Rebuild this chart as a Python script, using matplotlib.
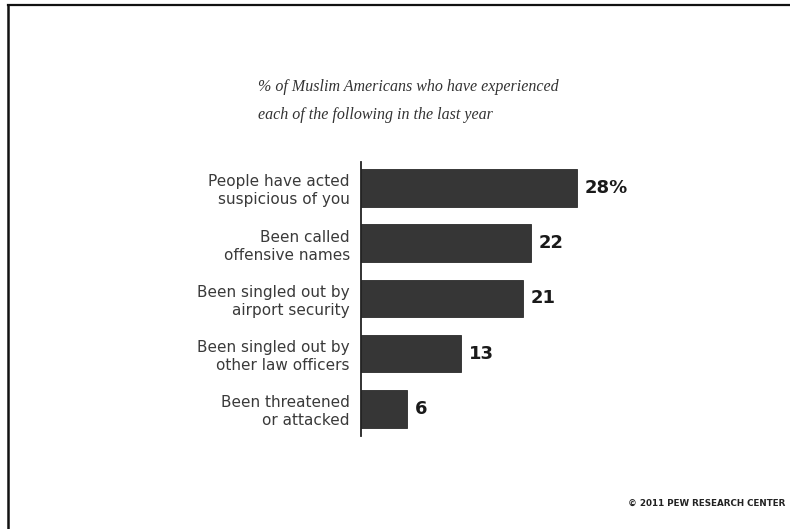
import matplotlib.pyplot as plt
from matplotlib.lines import Line2D

# data
labels = [
    "People have acted\nsuspicious of you",
    "Been called\noffensive names",
    "Been singled out by\nairport security",
    "Been singled out by\nother law officers",
    "Been threatened\nor attacked",
]
values = [28, 22, 21, 13, 6]
value_text = ["28%", "22", "21", "13", "6"]

W, H = 790, 529
fig = plt.figure(figsize=(W / 100, H / 100), dpi=100)
fig.patch.set_facecolor("white")

# axes placed so the bars land where they are in the original
ax = fig.add_axes([361 / W, 1 - 436 / H, 309 / W, 274 / H])
ypos = list(range(len(values)))
ax.barh(ypos, values, height=0.68, color="#363636", edgecolor="#2a2a2a", linewidth=0.6)

for y, v, t in zip(ypos, values, value_text):
    ax.text(v + 1.0, y, t, ha="left", va="center", fontsize=13,
            fontweight="bold", color="#1a1a1a")

ax.set_xlim(0, 40)
ax.set_ylim(4.49, -0.47)
ax.set_yticks(ypos)
ax.set_yticklabels(labels, fontsize=11, color="#3a3a3a", linespacing=1.25,
                   ha="right")
ax.tick_params(axis="y", length=0, pad=8)
ax.set_xticks([])
for side in ["top", "right", "bottom"]:
    ax.spines[side].set_visible(False)
ax.spines["left"].set_color("#222222")
ax.spines["left"].set_linewidth(1.3)

# title
fig.text(258 / W, 1 - 101 / H,
         "% of Muslim Americans who have experienced\neach of the following in the last year",
         ha="left", va="center", fontsize=11.5, style="italic",
         family="Liberation Serif", color="#333333", linespacing=1.95)

# source note
fig.text(785 / W, 1 - 503 / H, "© 2011 PEW RESEARCH CENTER", ha="right",
         va="center", fontsize=6.3, fontweight="bold", color="#222222")

# border on top and left as in the scan
fig.add_artist(Line2D([8 / W, 1.0], [1 - 5 / H, 1 - 5 / H], color="#111111",
                      lw=1.6, transform=fig.transFigure))
fig.add_artist(Line2D([8 / W, 8 / W], [0, 1 - 5 / H], color="#111111",
                      lw=1.8, transform=fig.transFigure))

plt.savefig("out.png", dpi=100)
